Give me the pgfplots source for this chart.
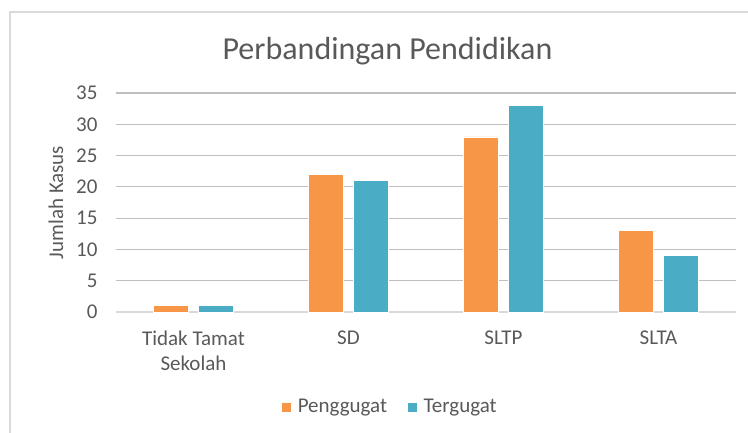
\documentclass[border=0pt]{standalone}
\usepackage{fontspec}
\setmainfont{Carlito}
\usepackage{pgfplots}
\pgfplotsset{compat=1.18}
\definecolor{peng}{HTML}{F79646}
\definecolor{terg}{HTML}{4BACC6}
\definecolor{txt}{HTML}{595959}
\definecolor{grid}{HTML}{D9D9D9}
\begin{document}
\begin{tikzpicture}
\path[use as bounding box] (0,0) rectangle (748pt,432pt);
\draw[grid, line width=1.5pt] (10pt,-10pt) rectangle (770pt,420pt);
\begin{axis}[
  at={(116pt,120pt)}, anchor=south west,
  scale only axis, width=620pt, height=219pt,
  ybar, bar width=35pt,
  xmin=-0.5, xmax=3.5, ymin=0, ymax=35,
  xtick={0,1,2,3},
  xticklabels={{Tidak Tamat\\Sekolah},SD,SLTP,SLTA},
  ytick={0,5,...,35},
  major tick length=0pt,
  axis x line*=bottom, axis y line*=left,
  x axis line style={grid, line width=1.2pt, -},
  y axis line style={draw=none},
  xmajorgrids=false, ymajorgrids=true,
  major grid style={grid, line width=1.2pt},
  tick label style={font=\fontsize{21}{25}\selectfont, text=txt},
  xticklabel style={align=center, yshift=-15pt},
  yticklabel style={xshift=-15pt},
  /pgf/number format/assume math mode=true,
  title={Perbandingan Pendidikan},
  title style={at={(0.5,1)}, anchor=base, yshift=28pt, xshift=-38.5pt, font=\fontsize{32}{36}\selectfont, text=txt},
  ylabel={Jumlah Kasus},
  ylabel style={at={(axis description cs:-0.0968,0.5)}, anchor=center, font=\fontsize{21}{25}\selectfont, text=txt},
  legend columns=2,
  legend style={at={(0.5,0)}, anchor=center, yshift=-95pt, xshift=-36pt, draw=none, fill=none,
    font=\fontsize{21}{25}\selectfont, text=txt,
    /tikz/every odd column/.append style={column sep=4pt},
    /tikz/every even column/.append style={column sep=18pt}},
  legend image code/.code={\fill[#1] (0pt,-5pt) rectangle (10pt,5pt);},
]
\addplot[fill=peng, draw=white, line width=0.5pt, bar shift=-22.25pt] coordinates {(0,1) (1,22) (2,28) (3,13)};
\addplot[fill=terg, draw=white, line width=0.5pt, bar shift=22.25pt] coordinates {(0,1) (1,21) (2,33) (3,9)};
\legend{Penggugat,Tergugat}
\end{axis}
\end{tikzpicture}
\end{document}
